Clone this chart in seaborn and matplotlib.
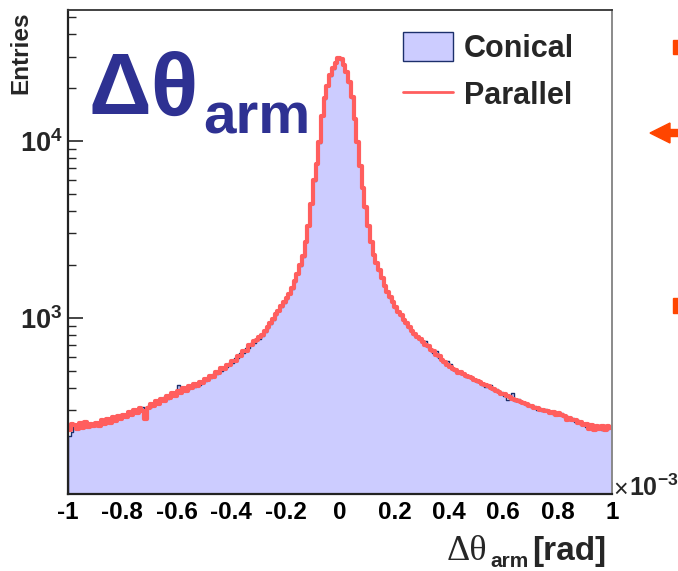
import numpy as np
import pandas as pd
import matplotlib
matplotlib.use("Agg")
import matplotlib.pyplot as plt
import seaborn as sns
from matplotlib.patches import Patch, Rectangle, Polygon
from matplotlib.lines import Line2D
from matplotlib.ticker import FixedLocator, FixedFormatter, MultipleLocator, NullFormatter

# ---------------- data (bin contents, 200 bins over [-1, 1] x 1e-3 rad) ----------------
x_range = (-1.0, 1.0)
n_bins = 200

parallel = [
    232, 250, 248, 236, 255, 238, 258, 241, 252, 244,
    255, 245, 264, 251, 268, 256, 274, 262, 279, 268,
    283, 274, 294, 283, 301, 291, 308, 298, 268, 309,
    324, 316, 338, 328, 350, 339, 362, 351, 374, 364,
    387, 376, 399, 388, 412, 399, 424, 412, 435, 426,
    450, 443, 472, 464, 495, 488, 519, 512, 544, 538,
    574, 573, 612, 610, 653, 653, 698, 698, 742, 746,
    775, 800, 838, 885, 935, 988, 1045, 1100, 1162, 1228,
    1295, 1372, 1478, 1618, 1778, 1980, 2230, 2700, 3320, 4430,
    5980, 7420, 9830, 13850, 17450, 20450, 23450, 25750, 27600, 29600,
    28900, 27000, 24600, 21450, 17650, 13250, 9930, 7260, 5450, 4235,
    3320, 2700, 2275, 2048, 1868, 1690, 1522, 1408, 1306, 1222,
    1148, 1085, 1032, 978, 930, 888, 842, 815, 778, 760,
    735, 702, 690, 660, 648, 616, 606, 575, 566, 540,
    530, 512, 509, 488, 493, 480, 470, 462, 458, 446,
    441, 433, 425, 415, 412, 400, 398, 386, 380, 372,
    370, 360, 357, 350, 345, 340, 333, 330, 326, 318,
    318, 310, 309, 302, 303, 296, 297, 290, 292, 284,
    288, 282, 280, 264, 272, 265, 264, 256, 258, 248,
    251, 236, 247, 233, 246, 236, 245, 232, 244, 239,
]

conical = [
    215, 225, 246, 249, 240, 250, 243, 252, 247, 255,
    248, 258, 252, 263, 257, 270, 261, 275, 268, 279,
    285, 280, 288, 296, 290, 303, 297, 312, 305, 318,
    315, 328, 324, 341, 337, 355, 346, 366, 360, 378,
    420, 390, 386, 402, 398, 415, 408, 427, 420, 440,
    438, 458, 456, 480, 482, 505, 502, 528, 530, 555,
    558, 590, 594, 630, 636, 672, 678, 718, 724, 765,
    760, 792, 828, 876, 928, 976, 1036, 1092, 1150, 1215,
    1285, 1360, 1465, 1605, 1762, 1965, 2212, 2680, 3300, 4410,
    5940, 7380, 9780, 13760, 17360, 20360, 23350, 25650, 27450, 29400,
    28700, 26800, 24420, 21350, 17560, 13170, 9880, 7220, 5410, 4205,
    3300, 2682, 2258, 2032, 1852, 1672, 1508, 1393, 1294, 1208,
    1135, 1076, 1020, 980, 918, 878, 850, 805, 785, 750,
    722, 740, 680, 670, 636, 650, 594, 588, 555, 570,
    548, 520, 498, 500, 480, 484, 465, 468, 450, 452,
    435, 437, 420, 408, 405, 420, 390, 394, 376, 380,
    362, 345, 351, 375, 341, 346, 331, 336, 321, 326,
    312, 316, 302, 309, 297, 304, 292, 299, 287, 294,
    282, 288, 274, 280, 266, 272, 258, 264, 250, 256,
    243, 249, 238, 246, 234, 244, 232, 245, 236, 242,
]

legend_labels = ["Conical", "Parallel"]
x_ticks = [-1, -0.8, -0.6, -0.4, -0.2, 0, 0.2, 0.4, 0.6, 0.8, 1]
x_tick_labels = ["-1", "-0.8", "-0.6", "-0.4", "-0.2", "0", "0.2", "0.4", "0.6", "0.8", "1"]
y_ticks = [1e3, 1e4]
y_tick_labels = [r"$\mathbf{10^{3}}$", r"$\mathbf{10^{4}}$"]

# ---------------- style ----------------
sns.set_theme(style="white")
plt.rcParams["font.family"] = ["Liberation Sans", "DejaVu Sans"]
plt.rcParams["mathtext.fontset"] = "custom"
plt.rcParams["mathtext.rm"] = "Liberation Sans"
plt.rcParams["mathtext.bf"] = "Liberation Sans:bold"
plt.rcParams["mathtext.it"] = "Liberation Sans:italic"

W, H = 678, 571
fig = plt.figure(figsize=(W / 100, H / 100), dpi=100)
fig.patch.set_facecolor("white")

def fx(x):
    return x / W

def fy(y):
    return 1 - y / H

ax = fig.add_axes([fx(68), fy(494), fx(612) - fx(68), fy(10) - fy(494)])

edges = list(np.linspace(x_range[0], x_range[1], n_bins + 1))
centers = [0.5 * (edges[i] + edges[i + 1]) for i in range(n_bins)]
df = pd.DataFrame({"x": centers, "conical": conical, "parallel": parallel})

fill_col = "#ccccff"
edge_col = "#1c2f6b"
red_col = "#ff5e5e"

sns.histplot(data=df, x="x", weights="conical", bins=edges, element="step",
             fill=True, facecolor=fill_col, edgecolor=edge_col, linewidth=1.0,
             alpha=1.0, ax=ax)
sns.histplot(data=df, x="x", weights="parallel", bins=edges, element="step",
             fill=False, color=red_col, linewidth=3.0, ax=ax)

ax.set_yscale("log")
ax.set_xlim(*x_range)
ax.set_ylim(101, 55000)
ax.set_xlabel("")
ax.set_ylabel("")

# ticks
ax.xaxis.set_major_locator(FixedLocator(x_ticks))
ax.xaxis.set_major_formatter(FixedFormatter(x_tick_labels))
ax.xaxis.set_minor_locator(MultipleLocator(0.05))
ax.yaxis.set_major_locator(FixedLocator(y_ticks))
ax.yaxis.set_major_formatter(FixedFormatter(y_tick_labels))
minor_y = [m * 10 ** e for e in (2, 3, 4) for m in range(2, 10)]
ax.yaxis.set_minor_locator(FixedLocator(minor_y))
ax.yaxis.set_minor_formatter(NullFormatter())

ax.tick_params(axis="x", which="major", direction="in", length=9, width=1.2,
               labelsize=17.5, pad=5, colors="black", bottom=True, top=False)
ax.tick_params(axis="x", which="minor", direction="in", length=5, width=1.0,
               bottom=True, top=False)
ax.tick_params(axis="y", which="major", direction="in", length=11, width=1.2,
               labelsize=19.5, pad=4, left=True, right=False)
ax.tick_params(axis="y", which="minor", direction="in", length=6, width=1.0,
               left=True, right=False)
for lab in ax.get_xticklabels():
    lab.set_fontweight("bold")

for side in ("left", "bottom"):
    ax.spines[side].set_color("#222222")
    ax.spines[side].set_linewidth(1.6)
ax.spines["top"].set_color("#333333")
ax.spines["top"].set_linewidth(1.3)
ax.spines["right"].set_color("#8a8a8a")
ax.spines["right"].set_linewidth(1.4)
for side in ax.spines:
    ax.spines[side].set_visible(True)

# legend
handles = [Patch(facecolor=fill_col, edgecolor=edge_col, linewidth=1.0),
           Line2D([0], [0], color=red_col, linewidth=2.0)]
leg = ax.legend(handles, legend_labels, loc="upper left",
                bbox_to_anchor=(fx(403), fy(32)), bbox_transform=fig.transFigure,
                frameon=False, prop={"size": 22, "weight": "bold"},
                handlelength=1.65, handleheight=1.1, labelspacing=0.5,
                handletextpad=0.35, borderpad=0, borderaxespad=0)

# big title
title_col = "#2e3192"
fig.text(fx(89), fy(114), "Δθ", fontsize=63, fontweight="bold", color=title_col,
         ha="left", va="baseline")
fig.text(fx(203), fy(133), "arm", fontsize=42, fontweight="bold", color=title_col,
         ha="left", va="baseline")

# y label
fig.text(fx(21), fy(11), "Entries", rotation=90, fontsize=17.5, fontweight="bold",
         ha="center", va="top")

# x exponent
fig.text(fx(613), fy(496), r"$\times$", fontsize=18, ha="left", va="baseline")
fig.text(fx(629), fy(496), r"$\mathbf{10^{-3}}$", fontsize=18, ha="left", va="baseline")

# x axis label
fig.text(fx(447), fy(560), "Δθ", fontsize=26, family=["Liberation Serif", "DejaVu Serif"],
         ha="left", va="baseline")
fig.text(fx(490), fy(567), "arm", fontsize=15, fontweight="bold", ha="left", va="baseline")
fig.text(fx(532), fy(560), "[rad]", fontsize=24, fontweight="bold", ha="left", va="baseline")

# slide decorations on the right edge
deco = "#ff4500"
fig.patches.append(Rectangle((fx(673), fy(54)), fx(5), fy(40) - fy(54),
                             transform=fig.transFigure, color=deco))
fig.patches.append(Rectangle((fx(673), fy(313)), fx(5), fy(298) - fy(313),
                             transform=fig.transFigure, color=deco))
fig.patches.append(Polygon([(fx(650), fy(133)), (fx(670), fy(123)), (fx(670), fy(129.5)),
                            (fx(678), fy(129.5)), (fx(678), fy(136.5)), (fx(670), fy(136.5)),
                            (fx(670), fy(143))], closed=True,
                           transform=fig.transFigure, color=deco))

fig.savefig("out.png", dpi=100, facecolor="white")
